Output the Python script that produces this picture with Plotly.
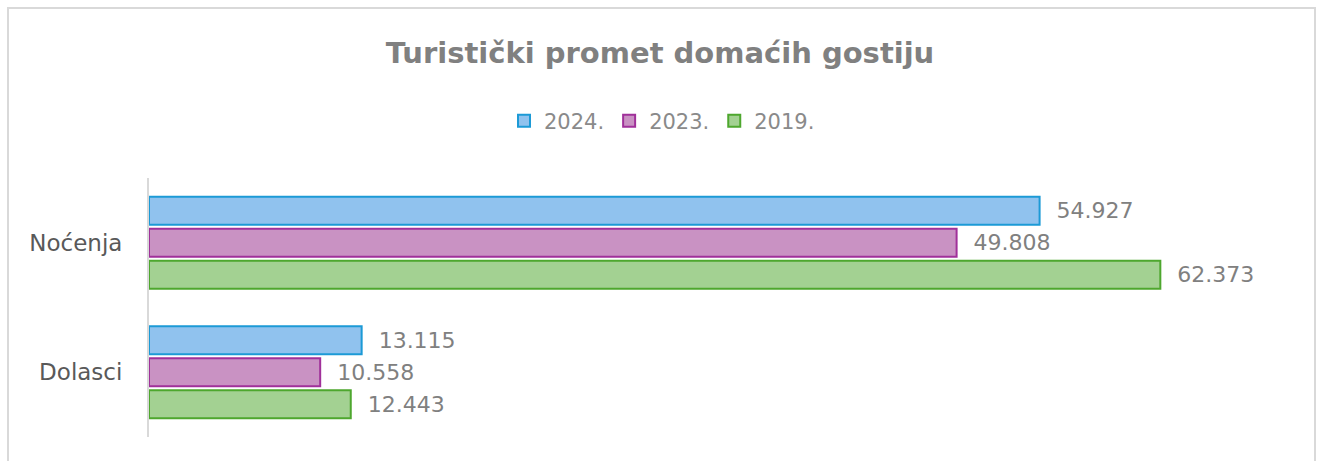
import plotly.graph_objects as go

categories = ["Dolasci", "Noćenja"]
series_names = ["2019.", "2023.", "2024."]
values_2019 = [12443, 62373]
values_2023 = [10558, 49808]
values_2024 = [13115, 54927]
title_text = "Turistički promet domaćih gostiju"

values = [values_2019, values_2023, values_2024]
fills = ["#a3d192", "#c992c3", "#90c2ee"]
borders = ["#4ea72e", "#a0309a", "#1c9ad6"]
ranks = [3, 2, 1]

W, H = 1320, 461
L, T = 149, 178
R = W - 1284
B = H - 437
pw, ph = W - L - R, H - T - B

FONT = "DejaVu Sans, Open Sans, sans-serif"

fig = go.Figure()
for name, vals, fc, bc, rk in zip(series_names, values, fills, borders, ranks):
    fig.add_trace(go.Bar(
        y=categories, x=vals, name=name, orientation="h",
        marker=dict(color=fc, line=dict(color=bc, width=2)),
        texttemplate="\u00a0\u00a0%{x:,}", textposition="outside",
        textfont=dict(size=22, color="#808080", family=FONT),
        cliponaxis=False, legendrank=rk,
    ))

def px_x(p):
    return (p - L) / pw

def px_y(p):
    return (H - B - p) / ph

fig.update_layout(
    width=W, height=H,
    margin=dict(l=L, r=R, t=T, b=B),
    paper_bgcolor="white", plot_bgcolor="white",
    separators=",.",
    font=dict(family=FONT, color="#595959"),
    barmode="group", bargap=0.26, bargroupgap=0.12,
    title=dict(text="<b>" + title_text + "</b>", x=0.5, xanchor="center",
               xref="container",
               y=1 - 53 / H, yanchor="middle",
               font=dict(size=29, color="#808080", family=FONT)),
    legend=dict(orientation="h", x=(662 - L) / pw, xanchor="center",
                y=1 - 121 / H, yref="container", yanchor="middle",
                font=dict(size=21, color="#8a8a8a", family=FONT), itemwidth=30),
    xaxis=dict(range=[0, 70000], showgrid=False, showticklabels=False,
               zeroline=False, showline=False),
    yaxis=dict(showgrid=False, showline=True, linecolor="#d9d9d9", linewidth=2,
               ticks="", tickfont=dict(size=23, color="#595959", family=FONT),
               ticklabelstandoff=20, zeroline=False),
    showlegend=True,
)

fig.add_shape(type="rect", xref="paper", yref="paper",
              x0=px_x(8), x1=px_x(1315), y0=px_y(480), y1=px_y(8),
              line=dict(color="#d9d9d9", width=2), fillcolor="rgba(0,0,0,0)",
              layer="below")

fig.write_html(
    "out.html",
    config={"displayModeBar": False},
    post_script="document.body.style.margin='0';document.body.style.overflow='hidden';",
)
